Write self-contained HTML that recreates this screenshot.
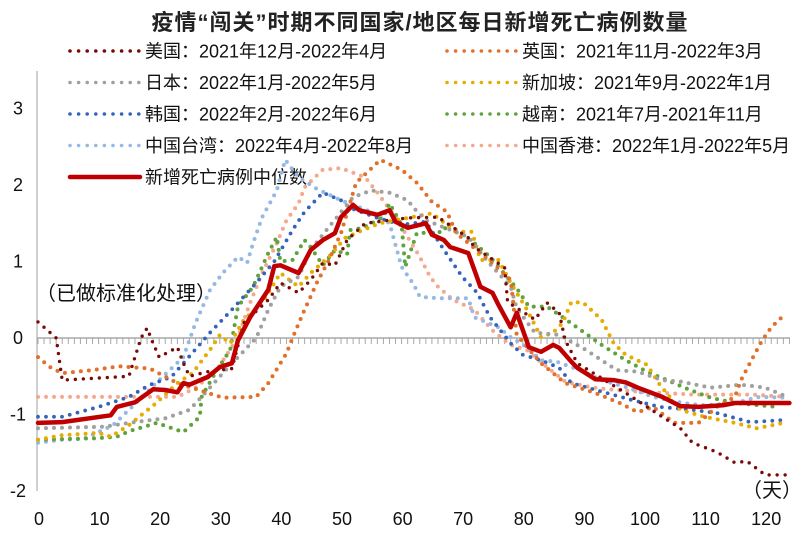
<!DOCTYPE html>
<html><head><meta charset="utf-8">
<style>
html,body{margin:0;padding:0;background:#fff;}
svg{display:block;font-family:"Liberation Sans","Noto Sans CJK SC",sans-serif;}
</style></head>
<body>
<svg id="chart" width="811" height="540" viewBox="0 0 811 540" xmlns="http://www.w3.org/2000/svg">
<text x="420" y="30" text-anchor="middle" font-size="22" letter-spacing="1" font-weight="bold" fill="#222">疫情“闯关”时期不同国家/地区每日新增死亡病例数量</text>
<g id="legend"></g>
<line x1="37" y1="71" x2="37" y2="491" stroke="#b0b0b0" stroke-width="1.2"/>
<g id="yticks"></g>
<g id="xaxis"></g>
<g id="series"></g>
<text x="36" y="300" font-size="20" fill="#111">（已做标准化处理）</text>
<text x="742" y="497" font-size="20" fill="#111">（天）</text>
</svg>
<script>
const xTicks=[0,10,20,30,40,50,60,70,80,90,100,110,120];
const yTicks=[3,2,1,0,-1,-2];
const usDays=[0,3,4,15,17,18,19,20,23,24,25,28,32,34,38,40,43,45,47,49,51,54,61,66,71,72,77,77.5,82,84,86,87,89,98,103,106,108,112,115,117,120,124];
const usVals=[0.21,0,-0.55,-0.5,0,0.13,-0.07,-0.25,-0.12,-0.33,-0.5,-0.44,-0.4,0.2,0.5,0.72,0.59,0.76,0.98,0.95,1.28,1.5,1.57,1.58,1.31,1.19,0.92,0.47,0.24,0.46,0.33,-0.03,-0.33,-0.77,-1.03,-1.18,-1.37,-1.49,-1.63,-1.61,-1.79,-1.79];
const ukDays=[0,2,4,9,13.5,18.5,23,30.5,36,38,41,42,44,46,48,50,52.5,56.5,60,62.5,65,67.5,69,74,78,79,83,87,92,96,99,101.5,105,109,112,115,116,118,119.5,121,123];
const ukVals=[-0.25,-0.38,-0.46,-0.42,-0.37,-0.4,-0.59,-0.78,-0.77,-0.59,-0.2,0,0.37,0.72,1.02,1.37,2.03,2.33,2.2,2.03,1.78,1.65,1.37,1.05,0.76,0.04,-0.33,-0.59,-0.72,-0.85,-0.97,-0.9,-1.11,-1.11,-0.9,-0.77,-0.55,-0.25,-0.03,0.14,0.29];
const jpDays=[0,11,15,21,25,27,30.5,33,36,38,40,43,45,48,52,55,58,61,62,64,71,74,78,79,82,86,90.5,95.5,99,103,106,111,116,120,124];
const jpVals=[-1.18,-1.16,-1.11,-1.05,-0.94,-0.77,-0.46,-0.25,0,0.37,0.67,0.8,1.15,1.45,1.84,1.93,1.9,1.8,1.7,1.54,1.32,1.02,0.67,0.39,0.07,0.04,-0.16,-0.42,-0.44,-0.55,-0.57,-0.65,-0.61,-0.65,-0.78];
const sgDays=[0,4,10,12,15,19.5,23,25.5,28.7,30,31.7,34,37,40,43,45,48,50.7,53.6,56.4,65,69,71.6,73,76,78,80.7,83,85,86.6,88,90,93,95,97,100.5,102.6,106,110,115,118.6,123];
const sgVals=[-1.33,-1.27,-1.24,-1.29,-1.14,-0.85,-0.59,-0.46,-0.12,0.04,-0.07,0.24,0.46,0.85,0.67,0.85,1.06,1.31,1.41,1.5,1.63,1.39,1.39,1.02,1.02,0.72,0.37,0.01,0.07,0.2,0.47,0.46,0.24,-0.07,-0.22,-0.35,-0.61,-0.94,-1.03,-1.11,-1.18,-1.11];
const krDays=[0,4,10,15,18.5,22,24,28.4,32,36,39,42,44,47,50,51.5,56,60,64,67,70,72.5,74.6,78,80,83,86,88,93,98,102.6,108,112,117.5,123.6];
const krVals=[-1.03,-1.03,-0.9,-0.77,-0.61,-0.51,-0.33,0.07,0.37,0.72,1,1.41,1.65,1.9,1.8,1.7,1.57,1.48,1.52,1.15,0.8,0.59,0.27,-0.07,-0.22,-0.29,-0.39,-0.59,-0.7,-0.81,-0.9,-0.94,-0.98,-1.1,-1.07];
const vnDays=[0,10,13,15,19.6,24,26.7,27,29.5,31.7,33,35.5,38,39.4,40,42,44,45,47,49,51,51.5,53.6,57,58,60,60.6,62.5,67,67.5,72,74.6,76,79,81,84,86.6,90,93,97,100.5,103.8,107.6,111,115,119,122];
const vnVals=[-1.33,-1.31,-1.29,-1.22,-1.11,-1.23,-1.03,-0.77,-0.42,-0.16,0.41,0.67,1.11,1.32,1,1.02,1.28,1.19,0.95,1.15,1.09,1.41,1.44,1.58,1.76,1.48,0.93,1.37,1.39,1.5,1.24,1.06,0.93,0.65,0.41,0.41,0.27,0.08,-0.09,-0.29,-0.44,-0.55,-0.68,-0.78,-0.85,-0.88,-0.9];
const twDays=[0,4,7.5,12.4,15,20,24,26,28.4,30.5,33,34.5,35.5,37,39.4,40.8,43,46,50,55,58,60,62,63,66,71,72,76,78,80.7,83,85.6,89.4,93,97,101.5,106.4,110,115,119,123.6];
const twVals=[-1.37,-1.33,-1.32,-1.14,-0.94,-0.55,-0.25,0.2,0.63,0.85,1.06,0.98,1.24,1.58,1.93,2.33,2.1,1.95,1.8,1.65,1.5,0.93,0.7,0.54,0.52,0.52,0.27,0.14,0.01,-0.12,-0.29,-0.31,-0.42,-0.55,-0.64,-0.77,-0.85,-0.88,-0.85,-0.77,-0.78];
const hkDays=[0,23,26,29.5,33,35,37,39.4,41,43,44,47,50,54,56,59,61,63,64.7,66,68.5,72,75,78,80.7,84,87,91.6,95.5,99,103.8,108,112.5,118,123.6];
const hkVals=[-0.77,-0.77,-0.65,-0.42,0.01,0.46,0.85,1.24,1.54,1.76,1.97,2.2,2.22,2.1,1.9,1.58,1.32,1.06,0.8,0.67,0.5,0.37,0.1,-0.09,-0.16,-0.38,-0.57,-0.65,-0.68,-0.7,-0.72,-0.74,-0.74,-0.74,-0.77];
const medDays=[0,4,12,13,16,19,21,23,24,25,28,30,32,33,35,38,39,40,43,45,47,49,50,52,53,56,58,59,61,64,65,67,68,71,73,75,76,78,79,81,83,85,86,88,89,92,95,97,99,103,106,109,113,115,120,124];
const medVals=[-1.11,-1.1,-1.01,-0.9,-0.84,-0.67,-0.68,-0.71,-0.59,-0.61,-0.51,-0.38,-0.33,-0.03,0.27,0.63,0.94,0.95,0.85,1.15,1.28,1.37,1.58,1.74,1.67,1.61,1.67,1.52,1.44,1.5,1.35,1.28,1.19,1.11,0.67,0.59,0.43,0.14,0.33,-0.12,-0.18,-0.09,-0.13,-0.31,-0.39,-0.54,-0.55,-0.58,-0.65,-0.77,-0.89,-0.9,-0.88,-0.85,-0.85,-0.85];

const NS="http://www.w3.org/2000/svg";
function xScale(d){return 38+d*6.06;}
function yScale(v){return 338-v*76.5;}
function mk(tag,attrs,parent){const e=document.createElementNS(NS,tag);for(const k in attrs)e.setAttribute(k,attrs[k]);parent.appendChild(e);return e;}

const ytG=document.getElementById('yticks');
yTicks.forEach(v=>{
  const t=mk('text',{x:18,y:yScale(v)+6,'text-anchor':'middle','font-size':'18',fill:'#111'},ytG);
  
  
  t.textContent=String(v);
});
const xG=document.getElementById('xaxis');
const zl=mk('line',{x1:37,y1:yScale(0),x2:790,y2:yScale(0),stroke:'#a8a8a8','stroke-width':1.5},xG);


for(let d=0;d<=124;d++){
  const tk=mk('line',{x1:xScale(d),y1:yScale(0),x2:xScale(d),y2:yScale(0)+6,stroke:'#a8a8a8','stroke-width':1},xG);
  
  
}
xTicks.forEach(d=>{
  const t=mk('text',{x:xScale(d)+1,y:525,'text-anchor':'middle','font-size':'18',fill:'#111'},xG);
  
  
  t.textContent=String(d);
});

const seriesDefs=[
 {name:'hk',days:hkDays,vals:hkVals,color:'#F4A88E',w:4},
 {name:'tw',days:twDays,vals:twVals,color:'#95B9E4',w:4},
 {name:'vn',days:vnDays,vals:vnVals,color:'#5EA33C',w:4},
 {name:'kr',days:krDays,vals:krVals,color:'#3464BA',w:3.8},
 {name:'sg',days:sgDays,vals:sgVals,color:'#E6AC00',w:4},
 {name:'jp',days:jpDays,vals:jpVals,color:'#A0A0A0',w:4},
 {name:'uk',days:ukDays,vals:ukVals,color:'#E0702A',w:4},
 {name:'us',days:usDays,vals:usVals,color:'#7A0A0A',w:3.4},
];
const sG=document.getElementById('series');
seriesDefs.forEach(s=>{
  const d=s.days.map((dd,i)=>(i?'L':'M')+xScale(dd).toFixed(1)+','+yScale(s.vals[i]).toFixed(1)).join(' ');
  const p=mk('path',{d:d,fill:'none',stroke:s.color,'stroke-width':s.w,'stroke-linecap':'round','stroke-dasharray':'0 8'},sG);
  
  
});
const md=medDays.map((dd,i)=>(i?'L':'M')+xScale(dd).toFixed(1)+','+yScale(medVals[i]).toFixed(1)).join(' ');
const mp=mk('path',{d:md,fill:'none',stroke:'#C00000','stroke-width':4.5,'stroke-linejoin':'round','stroke-linecap':'round'},sG);



const legendItems=[
 {x:68,y:51,color:'#7A0A0A',label:'美国：2021年12月-2022年4月'},
 {x:445,y:51,color:'#E0702A',label:'英国：2021年11月-2022年3月'},
 {x:68,y:82.5,color:'#A0A0A0',label:'日本：2022年1月-2022年5月'},
 {x:445,y:82.5,color:'#E6AC00',label:'新加坡：2021年9月-2022年1月'},
 {x:68,y:114,color:'#3464BA',label:'韩国：2022年2月-2022年6月'},
 {x:445,y:114,color:'#5EA33C',label:'越南：2021年7月-2021年11月'},
 {x:68,y:145.5,color:'#95B9E4',label:'中国台湾：2022年4月-2022年8月'},
 {x:445,y:145.5,color:'#F4A88E',label:'中国香港：2022年1月-2022年5月'},
];
const lG=document.getElementById('legend');
legendItems.forEach(it=>{
  const g=mk('g',{},lG);
  
  
  mk('line',{x1:it.x+2,y1:it.y,x2:it.x+72,y2:it.y,stroke:it.color,'stroke-width':3.6,'stroke-linecap':'round','stroke-dasharray':'0 8.6'},g);
  const t=mk('text',{x:it.x+77,y:it.y+6.5,'font-size':'18',fill:'#111'},g);
  t.textContent=it.label;
});
const mg=mk('g',{},lG);


mk('line',{x1:70,y1:177,x2:140,y2:177,stroke:'#C00000','stroke-width':4.5,'stroke-linecap':'round'},mg);
const mt=mk('text',{x:145,y:183.5,'font-size':'18',fill:'#111'},mg);
mt.textContent='新增死亡病例中位数';
</script>
</body></html>
